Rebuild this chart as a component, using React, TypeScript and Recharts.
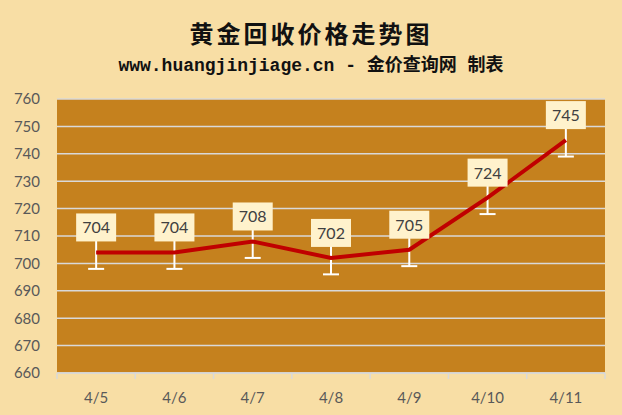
import { LineChart, Line, XAxis, YAxis, CartesianGrid, ErrorBar, LabelList } from 'recharts'

const dates = ['4/5', '4/6', '4/7', '4/8', '4/9', '4/10', '4/11']
const prices = [704, 704, 708, 702, 705, 724, 745]
const errors = [6, 6, 6, 6, 6, 6, 6]
const yTicks = [660, 670, 680, 690, 700, 710, 720, 730, 740, 750, 760]

const data = dates.map((d, i) => ({ date: d, price: prices[i], err: errors[i] }))

const W = 622
const H = 415
const xAxisHeight = 30
const margin = { top: 99, right: 17, bottom: 42 - xAxisHeight, left: 0 }
const yAxisWidth = 57
const band = (W - margin.left - margin.right - yAxisWidth) / dates.length

const labelFont = 'Lato, "Noto Sans", sans-serif'

function XTick(props: any) {
  const { x, y, payload, index } = props
  const left = x - band / 2
  return (
    <g>
      <line x1={left} x2={left} y1={y} y2={y + 6} stroke="#D9D9D9" strokeWidth={1.5} />
      {index === dates.length - 1 && (
        <line x1={x + band / 2} x2={x + band / 2} y1={y} y2={y + 6} stroke="#D9D9D9" strokeWidth={1.5} />
      )}
      <text x={x} y={y + 30} textAnchor="middle" fontSize={15} fill="#595959" fontFamily={labelFont}>
        {payload.value}
      </text>
    </g>
  )
}

function PriceLabel(props: any) {
  const { x, y, value } = props
  return (
    <g>
      <rect x={x - 20} y={y - 39} width={40} height={28} fill="#FFF2CC" />
      <text x={x} y={y - 19} textAnchor="middle" fontSize={16} fill="#404040" fontFamily={labelFont}>
        {value}
      </text>
    </g>
  )
}

export default function App() {
  return (
    <div style={{ position: 'relative', width: W, height: H, background: '#F8DEA5' }}>
      <style>{'body{margin:0}'}</style>
      <div
        style={{
          position: 'absolute',
          top: 15,
          width: W,
          textAlign: 'center',
          fontFamily: '"Noto Sans CJK SC", serif',
          fontWeight: 700,
          fontSize: 24,
          letterSpacing: 3,
          color: '#111',
        }}
      >
        黄金回收价格走势图
      </div>
      <div
        style={{
          position: 'absolute',
          top: 50,
          width: W,
          textAlign: 'center',
          fontFamily: '"Liberation Mono", "Noto Sans CJK SC", monospace',
          fontWeight: 700,
          fontSize: 18,
          color: '#111',
        }}
      >
        www.huangjinjiage.cn - 金价查询网 制表
      </div>
      <LineChart width={W} height={H} data={data} margin={margin} style={{ position: 'absolute', top: 0, left: 0 }}>
        <CartesianGrid vertical={false} fill="#C5811E" stroke="#D9D9D9" strokeWidth={1.5} fillOpacity={1} />
        <XAxis
          dataKey="date"
          height={xAxisHeight}
          padding={{ left: band / 2, right: band / 2 }}
          axisLine={{ stroke: '#D9D9D9', strokeWidth: 1.5 }}
          tickLine={false}
          tickSize={0}
          tickMargin={0}
          tick={<XTick />}
          interval={0}
        />
        <YAxis
          width={yAxisWidth}
          domain={[660, 760]}
          ticks={yTicks}
          axisLine={false}
          tickLine={false}
          tickSize={0}
          tickMargin={17}
          tick={{ fontSize: 15, fill: '#595959', fontFamily: labelFont }}
        />
        <Line
          dataKey="price"
          stroke="#C00000"
          strokeWidth={4}
          dot={false}
          isAnimationActive={false}
        >
          <ErrorBar dataKey="err" direction="y" width={8} stroke="#FFFFFF" strokeWidth={2} />
          <LabelList dataKey="price" content={<PriceLabel />} />
        </Line>
      </LineChart>
    </div>
  )
}
